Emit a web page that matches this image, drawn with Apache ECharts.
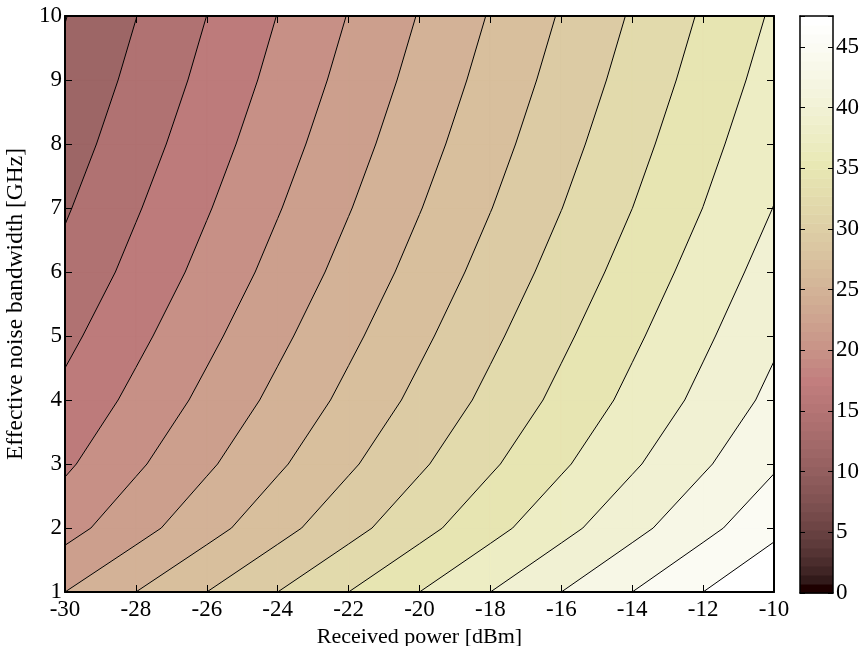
<!DOCTYPE html>
<html>
<head>
<meta charset="utf-8">
<script src="https://cdn.jsdelivr.net/npm/echarts@6/dist/echarts.min.js"></script>
<style>
  html, body { margin: 0; padding: 0; background: #fff; }
  #chart { width: 859px; height: 646px; }
</style>
</head>
<body>
<div id="chart"></div>
<script>
// grid of the surface: one row per bandwidth, one value per received power
const powerDbm = [-30, -28, -26, -24, -22, -20, -18, -16, -14, -12, -10];
const bandwidthGhz = [1, 2, 3, 4, 5, 6, 7, 8, 9, 10];
const snrDb = [
  [24.60, 27.15, 29.70, 32.25, 34.80, 37.35, 39.90, 42.45, 45.00, 47.55, 50.10],
  [21.11, 23.68, 26.25, 28.83, 31.40, 33.97, 36.54, 39.12, 41.69, 44.26, 46.84],
  [19.09, 21.65, 24.21, 26.77, 29.32, 31.88, 34.44, 36.99, 39.55, 42.11, 44.67],
  [17.59, 20.14, 22.69, 25.25, 27.80, 30.35, 32.90, 35.46, 38.01, 40.56, 43.11],
  [16.31, 18.88, 21.45, 24.02, 26.59, 29.16, 31.73, 34.31, 36.88, 39.45, 42.02],
  [15.11, 17.70, 20.29, 22.87, 25.46, 28.04, 30.63, 33.21, 35.80, 38.39, 40.97],
  [14.15, 16.73, 19.31, 21.89, 24.47, 27.05, 29.63, 32.21, 34.79, 37.37, 39.95],
  [13.25, 15.84, 18.43, 21.02, 23.61, 26.19, 28.78, 31.37, 33.96, 36.55, 39.14],
  [12.46, 15.05, 17.64, 20.23, 22.83, 25.42, 28.01, 30.60, 33.19, 35.78, 38.37],
  [11.77, 14.36, 16.96, 19.55, 22.14, 24.73, 27.32, 29.91, 32.50, 35.09, 37.68]
];
// contour levels
const levels = [11.85, 14.4, 16.95, 19.5, 22.05, 24.6, 27.15, 29.7, 32.25,
  34.8, 37.35, 39.9, 42.45, 45.0, 47.55];
const belowLevel = 9.3;      // colour value of the area under the lowest level
const cbarMin = 0;
const cbarMax = 47.55;

// MATLAB "pink" colormap, 64 entries
const MAP_N = 64;
const pinkMap = (function () {
  const n = Math.floor(3 / 8 * MAP_N);
  const out = [];
  for (let i = 0; i < MAP_N; i++) {
    const gray = i / (MAP_N - 1);
    const hr = i < n ? (i + 1) / n : 1;
    const hg = i < n ? 0 : (i < 2 * n ? (i - n + 1) / n : 1);
    const hb = i < 2 * n ? 0 : (i - 2 * n + 1) / (MAP_N - 2 * n);
    const c = [hr, hg, hb].map(h => Math.round(255 * Math.sqrt((2 * gray + h) / 3)));
    out.push('rgb(' + c.join(',') + ')');
  }
  return out;
})();
function mapColor(v) {
  let idx = Math.floor((v - cbarMin) / (cbarMax - cbarMin) * MAP_N + 1e-9);
  idx = Math.max(0, Math.min(MAP_N - 1, idx));
  return pinkMap[idx];
}

function cellCorners(i, j) {
  return [
    { x: powerDbm[i], y: bandwidthGhz[j], z: snrDb[j][i] },
    { x: powerDbm[i + 1], y: bandwidthGhz[j], z: snrDb[j][i + 1] },
    { x: powerDbm[i + 1], y: bandwidthGhz[j + 1], z: snrDb[j + 1][i + 1] },
    { x: powerDbm[i], y: bandwidthGhz[j + 1], z: snrDb[j + 1][i] }
  ];
}
function cross(a, b, lev) {
  const t = (lev - a.z) / (b.z - a.z);
  return { x: a.x + t * (b.x - a.x), y: a.y + t * (b.y - a.y), z: lev };
}
// keep the part of the cell where z >= lev
function clipAbove(poly, lev) {
  const out = [];
  for (let k = 0; k < poly.length; k++) {
    const a = poly[k], b = poly[(k + 1) % poly.length];
    const ain = a.z >= lev, bin = b.z >= lev;
    if (ain) out.push(a);
    if (ain !== bin) out.push(cross(a, b, lev));
  }
  return out;
}
function cellOf(api) {
  return cellCorners(powerDbm.indexOf(api.value(0)), bandwidthGhz.indexOf(api.value(1)));
}

// one fill layer: everything at or above `lev` (null = whole cell)
function fillLayer(lev) {
  const color = mapColor(lev === null ? belowLevel : lev);
  return function (params, api) {
    const corners = cellOf(api);
    const poly = lev === null ? corners : clipAbove(corners, lev);
    if (poly.length < 3) return null;
    return {
      type: 'polygon',
      shape: { points: poly.map(p => api.coord([p.x, p.y])) },
      style: { fill: color, stroke: color, lineWidth: 0.8 }
    };
  };
}

function renderLines(params, api) {
  const corners = cellOf(api);
  const children = [];
  levels.forEach(function (lev) {
    const pts = [];
    for (let e = 0; e < 4; e++) {
      const a = corners[e], b = corners[(e + 1) % 4];
      if ((a.z >= lev) !== (b.z >= lev)) pts.push(cross(a, b, lev));
    }
    for (let s = 0; s + 1 < pts.length; s += 2) {
      const p1 = api.coord([pts[s].x, pts[s].y]);
      const p2 = api.coord([pts[s + 1].x, pts[s + 1].y]);
      children.push({
        type: 'line',
        shape: { x1: p1[0], y1: p1[1], x2: p2[0], y2: p2[1] },
        style: { stroke: '#000', lineWidth: 1 }
      });
    }
  });
  return { type: 'group', children: children };
}

const cells = [];
for (let j = 0; j < bandwidthGhz.length - 1; j++) {
  for (let i = 0; i < powerDbm.length - 1; i++) cells.push([powerDbm[i], bandwidthGhz[j]]);
}
const cbarSteps = pinkMap.map((c, i) => [0, i]);

const font = 'Liberation Serif';
const tickFont = { color: '#000', fontFamily: font, fontSize: 23 };
const nameFont = { color: '#000', fontFamily: font, fontSize: 22 };
const boxLine = { show: true, onZero: false, lineStyle: { color: '#000', width: 2 } };
const thinBox = { show: true, onZero: false, lineStyle: { color: '#000', width: 1.5 } };
const tickIn = { inside: true, length: 7, lineStyle: { color: '#000' } };

const series = [null].concat(levels).map(lev => ({
  type: 'custom', xAxisIndex: 0, yAxisIndex: 0, data: cells,
  renderItem: fillLayer(lev), silent: true, z: 1
}));
series.push({
  type: 'custom', xAxisIndex: 0, yAxisIndex: 0, data: cells,
  renderItem: renderLines, silent: true, z: 2
});
series.push({
  type: 'custom', xAxisIndex: 2, yAxisIndex: 2, data: cbarSteps, silent: true,
  renderItem: function (params, api) {
    const i = api.value(1);
    const step = (cbarMax - cbarMin) / MAP_N;
    const p0 = api.coord([0, cbarMin + i * step]);
    const p1 = api.coord([1, cbarMin + (i + 1) * step]);
    return {
      type: 'rect',
      shape: { x: p0[0], y: p1[1], width: p1[0] - p0[0], height: p0[1] - p1[1] + 0.5 },
      style: { fill: pinkMap[i] }
    };
  }
});

const chart = echarts.init(document.getElementById('chart'));
chart.setOption({
  animation: false,
  backgroundColor: '#fff',
  grid: [
    { left: 65, top: 16, width: 709, height: 576, outerBoundsMode: 'none', containLabel: false },
    { left: 800, top: 16, width: 33, height: 577, outerBoundsMode: 'none', containLabel: false }
  ],
  xAxis: [
    {
      gridIndex: 0, type: 'value', position: 'bottom', min: -30, max: -10, interval: 2,
      axisLine: boxLine, axisTick: tickIn,
      axisLabel: Object.assign({ margin: 6 }, tickFont), splitLine: { show: false },
      name: 'Received power [dBm]', nameLocation: 'middle', nameGap: 31,
      nameTextStyle: nameFont, z: 5
    },
    {
      gridIndex: 0, type: 'value', position: 'top', min: -30, max: -10, interval: 2,
      axisLine: boxLine, axisTick: tickIn,
      axisLabel: { show: false }, splitLine: { show: false }, z: 5
    },
    {
      gridIndex: 1, type: 'value', position: 'bottom', min: 0, max: 1,
      axisLine: thinBox, axisTick: { show: false }, axisLabel: { show: false },
      splitLine: { show: false }, z: 5
    },
    {
      gridIndex: 1, type: 'value', position: 'top', min: 0, max: 1,
      axisLine: thinBox, axisTick: { show: false }, axisLabel: { show: false },
      splitLine: { show: false }, z: 5
    }
  ],
  yAxis: [
    {
      gridIndex: 0, type: 'value', position: 'left', min: 1, max: 10, interval: 1,
      axisLine: boxLine, axisTick: tickIn,
      axisLabel: Object.assign({ margin: 3 }, tickFont), splitLine: { show: false },
      name: 'Effective noise bandwidth [GHz]', nameLocation: 'middle', nameGap: 34,
      nameTextStyle: Object.assign({}, nameFont, { fontSize: 23.5 }), z: 5
    },
    {
      gridIndex: 0, type: 'value', position: 'right', min: 1, max: 10, interval: 1,
      axisLine: boxLine, axisTick: tickIn,
      axisLabel: { show: false }, splitLine: { show: false }, z: 5
    },
    {
      gridIndex: 1, type: 'value', position: 'left', min: cbarMin, max: cbarMax, interval: 5,
      axisLine: thinBox, axisTick: { inside: true, length: 5, lineStyle: { color: '#000' } },
      axisLabel: { show: false }, splitLine: { show: false }, z: 5
    },
    {
      gridIndex: 1, type: 'value', position: 'right', min: cbarMin, max: cbarMax, interval: 5,
      axisLine: thinBox, axisTick: { inside: true, length: 5, lineStyle: { color: '#000' } },
      axisLabel: Object.assign({
        margin: 3,
        formatter: v => (v % 5 === 0 ? String(v) : '')
      }, tickFont),
      splitLine: { show: false }, z: 5
    }
  ],
  series: series
});
</script>
</body>
</html>
